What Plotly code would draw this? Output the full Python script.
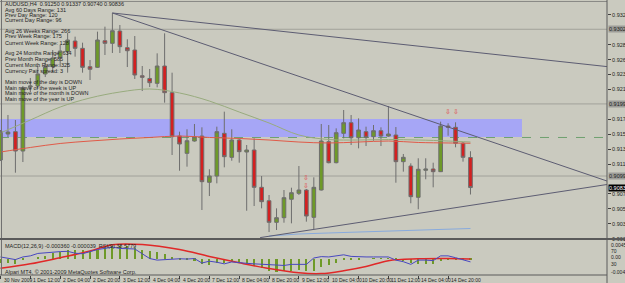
import plotly.graph_objects as go

# ---------------- data ----------------
bars = list(range(64))
opens = [0.91216,0.91575,0.91607,0.91340,0.92223,0.92237,0.92403,0.92504,0.92637,0.92711,
         0.92858,0.92757,0.92504,0.92495,0.92862,0.92826,0.92996,0.92766,0.92734,0.92379,
         0.92341,0.92274,0.92513,0.92145,0.91547,0.91308,0.91478,0.91547,0.90908,0.90995,
         0.91584,0.91253,0.91492,0.91326,0.91354,0.90839,0.90654,0.90356,0.90420,0.90674,
         0.90756,0.90802,0.90425,0.90802,0.91469,0.91179,0.91584,0.91731,0.91524,0.91607,
         0.91538,0.91620,0.91547,0.91561,0.91193,0.91133,0.90701,0.91074,0.91092,0.91055,
         0.91685,0.91667,0.91447,0.91250]
highs = [0.91630,0.91837,0.91768,0.92237,0.92348,0.92513,0.92582,0.92734,0.92803,0.92969,
         0.92918,0.92835,0.92596,0.92987,0.93056,0.93245,0.93079,0.92882,0.92927,0.92513,
         0.92472,0.92688,0.92964,0.92421,0.91607,0.91640,0.91713,0.91667,0.91088,0.91676,
         0.91883,0.91640,0.91515,0.91423,0.91515,0.90995,0.90733,0.90549,0.90802,0.90834,
         0.91133,0.90816,0.90977,0.91713,0.91699,0.91653,0.91906,0.91837,0.91791,0.91676,
         0.91699,0.91667,0.91961,0.91671,0.91299,0.91170,0.91240,0.91240,0.91179,0.91745,
         0.91723,0.91736,0.91464,0.91337]
lows = [0.91202,0.91533,0.91041,0.91188,0.92154,0.92196,0.92361,0.92430,0.92499,0.92421,
        0.92642,0.92421,0.92320,0.92486,0.92665,0.92693,0.92693,0.92499,0.92334,0.92168,
        0.92223,0.92219,0.92007,0.91285,0.91068,0.91124,0.91469,0.90526,0.90719,0.90894,
        0.91115,0.91206,0.91179,0.90516,0.90581,0.90549,0.90222,0.90250,0.90351,0.90342,
        0.90733,0.90365,0.90264,0.90795,0.91170,0.91170,0.91515,0.91423,0.91377,0.91409,
        0.91482,0.91409,0.91538,0.90903,0.91055,0.90619,0.90536,0.90950,0.90839,0.91050,
        0.91551,0.91391,0.91193,0.90740]
closes = [0.91607,0.91602,0.91340,0.92210,0.92237,0.92403,0.92504,0.92624,0.92720,0.92872,
          0.92757,0.92495,0.92468,0.92872,0.92826,0.93000,0.92780,0.92724,0.92389,0.92357,
          0.92283,0.92513,0.92145,0.91538,0.91437,0.91482,0.91538,0.90917,0.90995,0.91607,
          0.91262,0.91492,0.91331,0.91354,0.90839,0.90641,0.90356,0.90420,0.90696,0.90765,
          0.90802,0.90443,0.90839,0.91478,0.91179,0.91593,0.91731,0.91524,0.91630,0.91529,
          0.91620,0.91547,0.91575,0.91193,0.91253,0.90710,0.91088,0.91092,0.91055,0.91685,
          0.91667,0.91447,0.91253,0.90836]

ma_bars = [0,4,8,12,16,20,24,28,32,36,40,44,48,52,56,60,63]
ma_red = [0.91326,0.91389,0.91444,0.91478,0.91506,0.91527,0.91547,0.91527,0.91513,0.91492,
          0.91464,0.91451,0.91464,0.91478,0.91458,0.91451,0.91447]
ma_green = [0.91589,0.91768,0.91947,0.92072,0.92154,0.92196,0.92141,0.92030,0.91878,0.91727,
            0.91561,0.91499,0.91492,0.91499,0.91492,0.91478,0.91464]
ma_blue_bars = [36,40,44,48,52,56,60,63]
ma_blue = [0.90167,0.90195,0.90209,0.90222,0.90236,0.90250,0.90264,0.90271]

macd_main = [-0.0011,-0.0010,-0.0012,-0.0003,0.0000,0.0005,0.0008,0.0014,0.0018,0.0022,
             0.0024,0.0022,0.0020,0.0024,0.0028,0.0032,0.0033,0.0032,0.0028,0.0024,
             0.0020,0.0018,0.0012,0.0004,-0.0001,-0.0004,-0.0005,-0.0012,-0.0016,-0.0010,
             -0.0010,-0.0009,-0.0010,-0.0012,-0.0018,-0.0024,-0.0030,-0.0033,-0.0032,-0.0030,
             -0.0028,-0.0032,-0.0030,-0.0020,-0.0016,-0.0010,-0.0004,-0.0002,-0.0001,0.0000,
             0.0001,0.0001,0.0001,-0.0004,-0.0006,-0.0010,-0.0012,-0.0012,-0.0013,-0.0006,
             -0.0002,-0.0002,-0.0003,-0.00036]
sig_bars = [0,4,8,12,15,19,24,28,32,36,40,43,46,49,52,56,60,63]
macd_signal = [-0.00242,-0.00128,0.00030,0.00199,0.00362,0.00367,0.00239,0.00063,-0.00101,-0.00250,
               -0.00359,-0.00378,-0.00305,-0.00196,-0.00046,0.0,0.00008,-0.00004]
rsi9 = [53.1,50.0,45.3,53.1,56.3,63.4,65.6,67.2,68.8,69.7,
        64.1,62.5,68.8,75.0,78.1,82.2,78.1,78.1,76.6,62.5,
        48.4,43.8,45.3,46.9,47.8,46.9,48.4,35.3,40.6,37.5,
        32.8,38.4,37.5,34.4,32.8,31.3,29.7,29.1,28.1,31.3,
        32.2,31.3,50.0,54.1,53.1,56.3,59.4,54.7,53.1,53.1,
        53.1,53.1,53.1,43.8,39.1,31.3,43.8,43.8,42.2,56.3,
        56.3,50.9,43.8,38.6]

x_label_bars = [0,4,8,12,16,20,24,28,32,36,40,44,48,52,56,60]
x_labels = ["30 Nov 2009","1 Dec 12:00","2 Dec 04:00","2 Dec 20:00","3 Dec 12:00","4 Dec 04:00",
            "4 Dec 20:00","7 Dec 12:00","8 Dec 04:00","8 Dec 20:00","9 Dec 12:00","10 Dec 04:00",
            "10 Dec 20:00","11 Dec 12:00","14 Dec 04:00","14 Dec 20:00"]
price_ticks = [0.90130,0.90336,0.90542,0.90748,0.91160,0.91366,0.91572,
               0.91778,0.92190,0.92396,0.92602,0.92808,0.93220]
price_ticklabels = ["%.5f" % v for v in price_ticks]

hlines = [0.93020, 0.91990, 0.90995]
dash_line = 0.91527
zone = (0.91533, 0.91782, 69.9)
trend_lines = [((15, 0.93245), (81.3, 0.92505)),
               ((15, 0.93245), (81.3, 0.90926)),
               ((34.8, 0.90145), (81.3, 0.90878))]
info_lines = ["AUDUSD,H4  0.91250 0.91337 0.90740 0.90836",
              "Avg 60 Days Range: 131", "Prev Day Range: 120", "Current Day Range: 96",
              "Avg 26 Weeks Range: 266", "Prev Week Range: 175", "Current Week Range: 128",
              "Avg 24 Months Range: 634", "Prev Month Range: 585", "Current Month Range: 325",
              "Currency Pair spread: 3",
              "Main move of the day is DOWN", "Main move of the week is UP",
              "Main move of the month is DOWN", "Main move of the year is UP"]

# ---------------- layout helpers ----------------
W, H = 625, 283
ML, MR, MT, MB = 0, 18, 0, 8
PH = H - MT - MB
def py(p):  # pixel row -> paper y
    return (PH - (p - MT)) / PH
def px(p):
    return p / (W - ML - MR)

BG = "#cacabf"
TXT = "#1e1e1e"
FONT = "Liberation Sans, Arial, sans-serif"

fig = go.Figure()

fig.add_trace(go.Candlestick(
    x=bars, open=opens, high=highs, low=lows, close=closes,
    increasing=dict(line=dict(color="#6e6e6e", width=1), fillcolor="#6e9a28"),
    decreasing=dict(line=dict(color="#6e6e6e", width=1), fillcolor="#d42020"),
    whiskerwidth=0, xaxis="x", yaxis="y", showlegend=False, hoverinfo="skip"))

fig.add_trace(go.Scatter(x=ma_bars, y=ma_green, mode="lines", line=dict(color="#98ab7e", width=1, shape="spline"),
                         xaxis="x", yaxis="y", showlegend=False, hoverinfo="skip"))
fig.add_trace(go.Scatter(x=ma_bars, y=ma_red, mode="lines", line=dict(color="#e05a48", width=1, shape="spline"),
                         xaxis="x", yaxis="y", showlegend=False, hoverinfo="skip"))
fig.add_trace(go.Scatter(x=ma_blue_bars, y=ma_blue, mode="lines", line=dict(color="#88aadd", width=1),
                         xaxis="x", yaxis="y", showlegend=False, hoverinfo="skip"))

# MACD subwindow
fig.add_trace(go.Bar(x=bars, y=macd_main, marker=dict(color="#6e9a28", line=dict(width=0)), width=0.28,
                     xaxis="x2", yaxis="y2", showlegend=False, hoverinfo="skip"))
fig.add_trace(go.Scatter(x=sig_bars, y=macd_signal, mode="lines", line=dict(color="#e02828", width=1.5, shape="spline"),
                         xaxis="x2", yaxis="y2", showlegend=False, hoverinfo="skip"))
fig.add_trace(go.Scatter(x=bars, y=rsi9, mode="lines", line=dict(color="#4848c0", width=1),
                         xaxis="x2", yaxis="y3", showlegend=False, hoverinfo="skip"))

xr = [-0.067, 81.3]
main_range = [0.90119, 0.93424]

shapes = []
shapes.append(dict(type="rect", xref="x", yref="y", x0=xr[0], x1=zone[2], y0=zone[0], y1=zone[1],
                   fillcolor="#a6a6f6", line=dict(width=0), layer="below"))
for h in hlines:
    shapes.append(dict(type="line", xref="paper", yref="y", x0=0, x1=1, y0=h, y1=h,
                       line=dict(color="#a2a29a", width=1), layer="below"))
shapes.append(dict(type="line", xref="paper", yref="y", x0=0, x1=1, y0=dash_line, y1=dash_line,
                   line=dict(color="#6fa070", width=1, dash="dash"), layer="below"))
for (a, b) in trend_lines:
    shapes.append(dict(type="line", xref="x", yref="y", x0=a[0], y0=a[1], x1=b[0], y1=b[1],
                       line=dict(color="#5c5c72", width=1)))
# borders
shapes.append(dict(type="line", xref="paper", yref="paper", x0=0, x1=1, y0=py(1.5), y1=py(1.5),
                   line=dict(color="#8a8a86", width=1)))
shapes.append(dict(type="line", xref="paper", yref="paper", x0=px(1.5), x1=px(1.5), y0=py(0), y1=py(275),
                   line=dict(color="#707070", width=1)))
shapes.append(dict(type="line", xref="paper", yref="paper", x0=0, x1=1.03, y0=py(239), y1=py(239),
                   line=dict(color="#5a5a5a", width=2)))
shapes.append(dict(type="line", xref="paper", yref="paper", x0=0, x1=1, y0=py(275), y1=py(275),
                   line=dict(color="#5a5a5a", width=1)))
shapes.append(dict(type="line", xref="paper", yref="paper", x0=1, x1=1, y0=py(0), y1=py(283),
                   line=dict(color="#5a5a5a", width=1)))

ann = []
info_rows = [4.5, 9.5, 14.5, 20, 31, 36.5, 42.5, 53, 59, 65, 71, 81.5, 87.5, 93, 99]
for t, r in zip(info_lines, info_rows):
    ann.append(dict(text=t, xref="paper", yref="paper", x=px(2.5), y=py(r), xanchor="left", yanchor="middle",
                    showarrow=False, font=dict(size=5.5, color=TXT, family=FONT)))
ann.append(dict(text="MACD(12,26,9) -0.000360 -0.000039  RSI(9) 38.5779", xref="paper", yref="paper",
                x=px(2.5), y=py(245.5), xanchor="left", yanchor="middle", showarrow=False,
                font=dict(size=5.5, color=TXT, family=FONT)))
ann.append(dict(text="Alpari MT4, © 2001-2009 MetaQuotes Software Corp.", xref="paper", yref="paper",
                x=px(2.5), y=py(271.5), xanchor="left", yanchor="middle", showarrow=False,
                font=dict(size=5.5, color=TXT, family=FONT)))
for b, t in zip(x_label_bars, x_labels):
    ann.append(dict(text=t, xref="x2", yref="paper", x=b, y=py(279.5), xanchor="left", yanchor="middle",
                    xshift=1, showarrow=False, font=dict(size=5, color=TXT, family=FONT)))
for h, col, fc in [(hlines[0], "#9c9c98", TXT), (hlines[1], "#9c9c98", TXT), (hlines[2], "#9c9c98", TXT),
                   (closes[-1], "#000000", "#ffffff")]:
    ann.append(dict(text="%.5f" % h, xref="paper", yref="y", x=1, y=h, xanchor="left", yanchor="middle",
                    xshift=1, showarrow=False, bgcolor=col, borderpad=0,
                    font=dict(size=5.5, color=fc, family=FONT)))
for lab, r in [("0.00458", 244.5), ("70", 250.8), ("0.00", 256.5), ("30", 264), ("-0.00414", 272)]:
    ann.append(dict(text=lab, xref="paper", yref="paper", x=1, y=py(r), xanchor="left", yanchor="middle",
                    xshift=2, showarrow=False, font=dict(size=5, color=TXT, family=FONT)))
for b, v in [(60, 0.91884), (61, 0.91884), (41, 0.90967), (41, 0.90857)]:
    ann.append(dict(text="⇩", xref="x", yref="y", x=b, y=v, showarrow=False,
                    font=dict(size=7, color="#e04848", family="DejaVu Sans")))

fig.update_layout(
    width=W, height=H, margin=dict(l=ML, r=MR, t=MT, b=MB, autoexpand=False),
    paper_bgcolor=BG, plot_bgcolor=BG,
    xaxis=dict(domain=[0, 1], range=xr, showgrid=False, zeroline=False, showticklabels=False,
               rangeslider=dict(visible=False), anchor="y", fixedrange=True, automargin=False),
    yaxis=dict(domain=[py(239.5), 1], range=main_range, side="right", showgrid=False, zeroline=False,
               tickvals=price_ticks, ticktext=price_ticklabels, ticks="outside", ticklen=3,
               tickcolor="#404040", tickfont=dict(size=5.5, color=TXT, family=FONT), anchor="x",
               automargin=False),
    xaxis2=dict(domain=[0, 1], range=xr, showgrid=False, zeroline=False, showticklabels=False,
                tickvals=x_label_bars, ticks="outside", ticklen=3, tickcolor="#404040", anchor="y2",
                automargin=False),
    yaxis2=dict(domain=[0, py(241)], range=[-0.00414, 0.00458], showgrid=False, zeroline=False,
                showticklabels=False, anchor="x2", automargin=False),
    yaxis3=dict(domain=[0, py(241)], range=[0, 100], overlaying="y2", showgrid=False, zeroline=False,
                showticklabels=False, anchor="x2", automargin=False),
    shapes=shapes, annotations=ann, bargap=0, showlegend=False,
)

fig.write_html("out.html")
